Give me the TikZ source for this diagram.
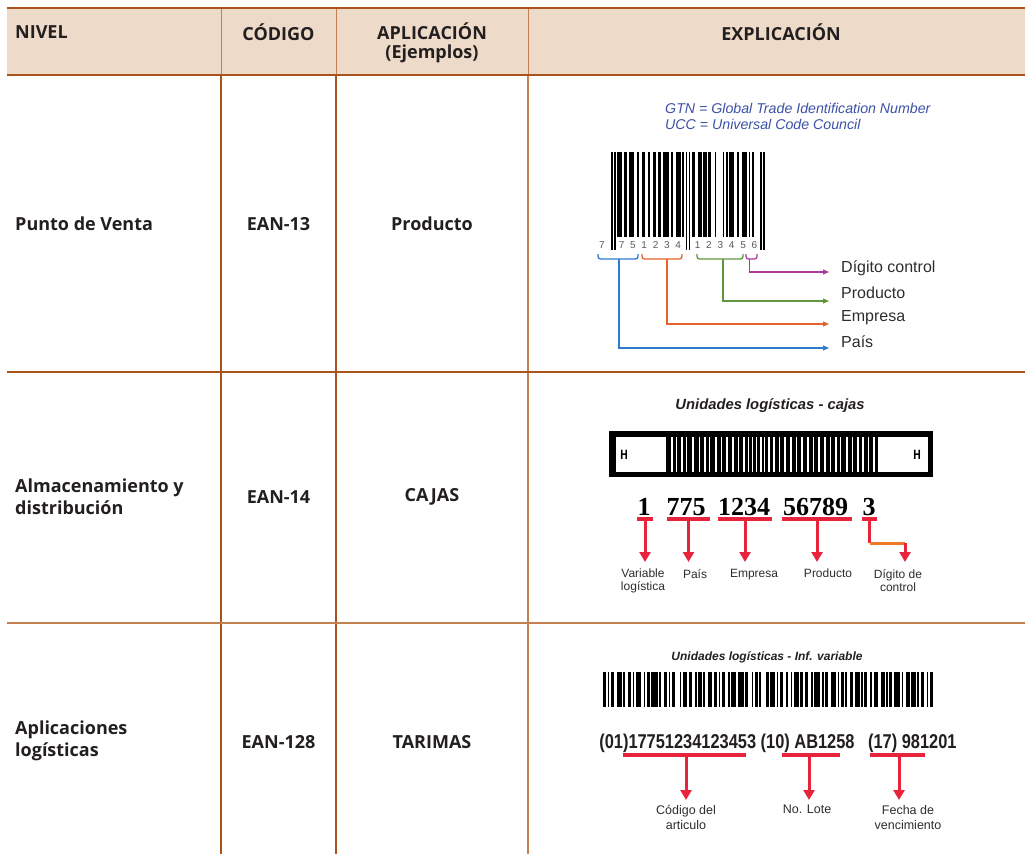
\documentclass[tikz,border=0pt]{standalone}
\usepackage{fontspec}
\usepackage{graphicx}
\setmainfont{Liberation Sans}
\newfontfamily\hdr{Open Sans}
\newfontfamily\serifb{Liberation Serif}
\usetikzlibrary{arrows.meta}
\definecolor{hdrfill}{RGB}{238,218,200}
\definecolor{rulec}{RGB}{170,84,28}
\definecolor{rulelight}{RGB}{196,128,80}
\definecolor{gtnblue}{RGB}{60,80,165}
\definecolor{cblue}{RGB}{46,122,204}
\definecolor{corange}{RGB}{228,98,44}
\definecolor{cgreen}{RGB}{96,150,60}
\definecolor{cpurple}{RGB}{170,60,160}
\definecolor{cred}{RGB}{232,36,60}
\definecolor{corg2}{RGB}{240,120,40}
\definecolor{labgray}{RGB}{45,45,45}
\definecolor{txt}{RGB}{35,31,32}
\begin{document}
\begin{tikzpicture}[x=1pt,y=-1pt,
  hd/.style={font=\hdr\bfseries\fontsize{18}{22}\selectfont, text=txt, inner sep=0pt},
  hdh/.style={font=\hdr\bfseries\fontsize{18}{19}\selectfont, text=txt, inner sep=0pt},
  lab/.style={font=\fontsize{16}{18}\selectfont, text=labgray, inner sep=0pt, anchor=west},
  labtwo/.style={font=\fontsize{12}{13}\selectfont, text=labgray, inner sep=0pt, align=center, anchor=north},
  labthree/.style={font=\fontsize{12.5}{15}\selectfont, text=labgray, inner sep=0pt, align=center, anchor=north},
  calarrow/.style={line width=1.1pt, -{Triangle[length=6pt,width=5pt]}},
  brk/.style={line width=1.3pt, rounded corners=2.5pt},
  uline/.style={cred, line width=3.5pt},
  rarrow/.style={cred, line width=3pt, -{Triangle[length=10pt,width=11pt]}},
  bigdig/.style={font=\serifb\bfseries\fontsize{26}{26}\selectfont, inner sep=0pt, anchor=base},
  digs/.style={font=\fontsize{10}{10}\selectfont, text=black!65, inner sep=0pt},
]
\useasboundingbox (0,0) rectangle (1025,854);
% ---------------- table frame
\fill[hdrfill] (7,8) rectangle (1025,75);
\draw[rulelight, line width=1pt] (221,8) -- (221,75) (336,8) -- (336,75) (528,8) -- (528,75);
\draw[rulec, line width=2.6pt] (7,8) -- (1025,8) (7,75) -- (1025,75);
\draw[rulec, line width=1.3pt] (221,76) -- (221,854) (336,76) -- (336,854);
\draw[rulelight, line width=1.3pt] (528,76) -- (528,854);
\draw[rulec, line width=1.6pt] (7,372) -- (1025,372);
\draw[rulelight, line width=1.8pt] (7,623) -- (1025,623);
% ---------------- header
\node[hd, anchor=west] (hNivel) at (15,32) {NIVEL};
\node[hd] (hCod) at (278.5,32) {CÓDIGO};
\node[hdh, align=center, anchor=north] (hApl) at (432,23) {APLICACIÓN\\(Ejemplos)};
\node[hd] (hExp) at (781,32) {EXPLICACIÓN};
% ---------------- left columns
\node[hd, anchor=west] (n1) at (15,224) {Punto de Venta};
\node[hd] (c1) at (278.5,224) {EAN-13};
\node[hd] (a1) at (432,224) {Producto};
\node[hd, anchor=west, align=left] (n2) at (15,497) {Almacenamiento y\\distribución};
\node[hd] (c2) at (278.5,497) {EAN-14};
\node[hd] (a2) at (432,497) {CAJAS};
\node[hd, anchor=west, align=left] (n3) at (15,741) {Aplicaciones\\logísticas};
\node[hd] (c3) at (278.5,742) {EAN-128};
\node[hd] (a3) at (432,742) {TARIMAS};
% ---------------- row 1 : EAN-13
\node[anchor=north west, align=left, inner sep=0pt, text=gtnblue,
      font=\itshape\fontsize{14.2}{16.5}\selectfont] (gtn) at (665,103)
  {GTN = Global Trade Identification Number\\UCC = Universal Code Council};
\foreach \b [count=\i from 0] in {1,0,1,
  0,1,1,1,0,1,1, 0,1,1,1,0,0,1, 0,0,1,1,0,0,1, 0,0,1,1,0,1,1, 0,1,1,1,1,0,1, 0,0,1,1,1,0,1,
  0,1,0,1,0,
  1,1,0,0,1,1,0, 1,1,0,1,1,0,0, 1,0,0,0,0,1,0, 1,0,1,1,1,0,0, 1,0,0,1,1,1,0, 1,0,1,0,0,0,0,
  1,0,1}{
  \ifnum\b=1
    \pgfmathsetmacro\yb{(\i<3 || (\i>44 && \i<50) || \i>91) ? 250 : 237}
    \fill[black] (611+\i*1.62,152) rectangle (611+\i*1.62+1.66,\yb);
  \fi
}
\node[digs] (d0) at (602,245.5) {7};
\foreach \d [count=\k from 0] in {7,5,1,2,3,4}
  \node[digs] (dl\k) at (611+6.5*1.62+\k*7*1.62,245.5) {\d};
\foreach \d [count=\k from 0] in {1,2,3,4,5,6}
  \node[digs] (dr\k) at (611+53.5*1.62+\k*7*1.62,245.5) {\d};
% brackets
\draw[brk, cblue] (598,254) -- (598,259) -- (638,259) -- (638,254);
\draw[brk, corange] (642,254) -- (642,259) -- (682,259) -- (682,254);
\draw[brk, cgreen] (697,254) -- (697,259) -- (743,259) -- (743,254);
\draw[brk, cpurple] (746,254) -- (746,259) -- (757,259) -- (757,254);
\coordinate (sB) at (619,259);   \coordinate (eB) at (829,348);
\coordinate (sO) at (667,259);   \coordinate (eO) at (829,324);
\coordinate (sG) at (723,259);   \coordinate (eG) at (829,301);
\coordinate (sP) at (749.5,259); \coordinate (eP) at (829,272);
\draw[calarrow, cblue] (sB) |- (eB);
\draw[calarrow, corange] (sO) |- (eO);
\draw[calarrow, cgreen] (sG) |- (eG);
\draw[calarrow, cpurple] (sP) |- (eP);
\node[lab] (lDig) at (841,268) {Dígito control};
\node[lab] (lProd) at (841,293) {Producto};
\node[lab] (lEmp) at (841,318) {Empresa};
\node[lab] (lPais) at (841,342) {País};
% ---------------- row 2 : EAN-14
\node[inner sep=0pt, font=\bfseries\itshape\fontsize{14.8}{16}\selectfont, text=txt] (t2) at (770,406) {Unidades logísticas - cajas};
\fill[black] (609,431) rectangle (933,477);
\fill[white] (616,437) rectangle (666,472);
\fill[white] (878,437) rectangle (928,472);
\foreach \x/\w in {671/1.5,676/1.2,681/1.8,686/1.2,692/2,699/1.2,704/1.8,709/1.2,715/2,721/1.2,726/1.8,732/2,738/1.2,743/1.8,748/1.2,752/1.2,756/1.2,760/1.8,764/1.2,768/1.8,773/2,779/1.2,784/1.8,790/2,796/1.2,801/1.8,807/2,813/1.2,818/1.8,824/2,830/1.2,835/1.8,840/1.2,846/2,852/1.2,857/1.8,862/2,868/1.2,873/1.8}
  \fill[white] (\x,437) rectangle (\x+\w,472);
\node[inner sep=0pt, font=\hdr\bfseries\fontsize{13}{13}\selectfont] (hL) at (624,455) {\scalebox{0.8}[1]{H}};
\node[inner sep=0pt, font=\hdr\bfseries\fontsize{13}{13}\selectfont] (hR) at (917,455) {\scalebox{0.8}[1]{H}};
\node[bigdig] (g1) at (644,515) {1};
\node[bigdig] (g2) at (686,515) {775};
\node[bigdig] (g3) at (744,515) {1234};
\node[bigdig] (g4) at (815.5,515) {56789};
\node[bigdig] (g5) at (869,515) {3};
\draw[uline] (637,519) -- (653,519) (667,519) -- (710,519) (718,519) -- (772,519) (782,519) -- (852,519) (862,519) -- (877,519);
\node[labtwo] (v1) at (643,569) {Variable\\logística};
\node[labtwo] (v2) at (695,569) {País};
\node[labtwo] (v3) at (754,569) {Empresa};
\node[labtwo] (v4) at (828,569) {Producto};
\node[labtwo] (v5) at (898,569) {Dígito de\\control};
\coordinate (u1) at (645,519);
\coordinate (u2) at (688.5,519);
\coordinate (u3) at (745,519);
\coordinate (u4) at (817,519);
\coordinate (u5) at (869.5,519);
\coordinate (k5) at (869.5,543);
\coordinate (m5) at (905,543);
\draw[rarrow, shorten >=7pt] (u1) -- (u1 |- v1.north);
\draw[rarrow, shorten >=7pt] (u2) -- (u2 |- v2.north);
\draw[rarrow, shorten >=7pt] (u3) -- (u3 |- v3.north);
\draw[rarrow, shorten >=7pt] (u4) -- (u4 |- v4.north);
\draw[cred, line width=3pt] (u5) -- (k5);
\draw[corg2, line width=3pt] (k5) -- (m5);
\draw[rarrow, shorten >=7pt] (m5) -- (m5 |- v5.north);
% ---------------- row 3 : EAN-128
\node[inner sep=0pt, font=\bfseries\itshape\fontsize{12}{14}\selectfont, text=txt] (t3) at (767,657) {Unidades logísticas - Inf. variable};
\gdef\cx{603}
\foreach \b/\s in {2/1,1/1,2/2,3/1,1/2,2/1,1/1,3/2,1/1,2/1,4/1,1/2,2/1,1/1,2/3,1/1,3/1,2/2,1/1,2/1,1/2,3/1,2/1,1/1,2/2,1/1,3/1,4/1,2/2,1/1,2/1,1/3,2/1,3/1,1/1,2/2,1/2,1/1,3/1,2/1,2/2,1/1,4/1,1/1,2/2,3/1,1/1,2/1,1/2,2/1,3/1,1/1,2/2,1/1,3/2,2/1,1/1,2/1,4/1,1/2,2/1,3/1,1/1,2/2,1/1,2/0}{
  \fill[black] (\cx,672) rectangle (\cx+\b*1.564,707);
  \pgfmathsetmacro\tmp{\cx+(\b+\s)*1.564}
  \global\let\cx\tmp
}
\node[inner sep=0pt, anchor=base, font=\bfseries\fontsize{20}{20}\selectfont, text=txt] (code) at (778,748)
  {\scalebox{0.82}[1]{(01)17751234123453 (10) AB1258\hspace{0.55em} (17) 981201}};
\draw[uline] (623,755) -- (746,755) (782,755) -- (840,755) (870,755) -- (925,755);
\coordinate (w1) at (686,755);
\coordinate (w2) at (809,755);
\coordinate (w3) at (899,755);
\node[labthree] (x1) at (686,805) {Código del\\articulo};
\node[labthree] (x2) at (807,805) {No. Lote};
\node[labthree] (x3) at (908,805) {Fecha de\\vencimiento};
\draw[rarrow, shorten >=5pt] (w1) -- (w1 |- x1.north);
\draw[rarrow, shorten >=5pt] (w2) -- (w2 |- x2.north);
\draw[rarrow, shorten >=5pt] (w3) -- (w3 |- x3.north);
\end{tikzpicture}
\end{document}
